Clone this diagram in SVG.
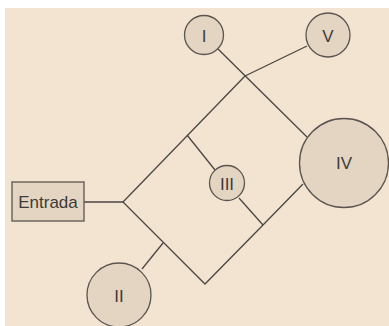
<svg xmlns="http://www.w3.org/2000/svg" width="389" height="326" viewBox="0 0 389 326">
<style>
.n{fill:#e4d5c3;stroke:#5a5550;stroke-width:1.3}
.c{fill:none;stroke:#4a4643;stroke-width:1.3;stroke-linejoin:miter}
text{font-family:"Liberation Sans",Arial,sans-serif;font-size:17px;fill:#3d3a38;text-anchor:middle;dominant-baseline:central}
</style>
<rect x="0" y="0" width="389" height="326" fill="#ffffff"/>
<rect x="5" y="8" width="384" height="318" fill="#f3e4d1"/>
<g id="connectors">
<line class="c" x1="84" y1="202" x2="123" y2="202"/>
<polyline class="c" points="245,76 123,202 205,284 263,225 303,184"/>
<line class="c" x1="245" y1="76" x2="307" y2="46"/>
<line class="c" x1="218" y1="49" x2="307" y2="137"/>
<line class="c" x1="187" y1="135" x2="215" y2="170"/>
<line class="c" x1="239" y1="198" x2="263" y2="225"/>
<line class="c" x1="163" y1="243" x2="142" y2="269"/>
</g>
<g id="entrada"><rect class="n" x="12" y="182" width="72" height="39"/><text x="48" y="202">Entrada</text></g>
<g id="node-I"><circle class="n" cx="204" cy="35" r="19.5"/><text x="204" y="36">I</text></g>
<g id="node-V"><circle class="n" cx="328" cy="35" r="22"/><text x="328" y="36">V</text></g>
<g id="node-III"><circle class="n" cx="227" cy="183" r="17.5"/><text x="227" y="184">III</text></g>
<g id="node-IV"><circle class="n" cx="344" cy="163" r="44.5"/><text x="344" y="163">IV</text></g>
<g id="node-II"><circle class="n" cx="119" cy="295" r="32"/><text x="119" y="296">II</text></g>
</svg>
